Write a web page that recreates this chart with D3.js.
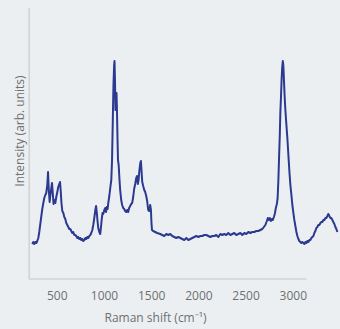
<!DOCTYPE html>
<html><head><meta charset="utf-8">
<script src="https://cdn.jsdelivr.net/npm/d3@7"></script>
<style>
html,body{margin:0;padding:0;background:#eceff1;}
svg{display:block;}
text{font-family:"Open Sans",sans-serif;fill:#6d6f71;}
</style></head>
<body>
<svg id="c" width="340" height="329"></svg>
<script>
// Raman shift (cm^-1)
const shift = [235,246,256,267,278,288,299,309,320,331,341,352,362,373,383,394,402,410,419,426,434,444,452,460,468,479,489,500,510,521,529,537,544,553,564,574,585,595,606,617,627,638,648,659,669,680,691,701,712,722,733,744,754,765,775,786,797,807,818,828,839,850,860,871,881,892,903,911,918,927,934,945,955,963,971,979,987,998,1008,1016,1024,1033,1040,1051,1061,1072,1080,1088,1095,1102,1106,1111,1116,1122,1127,1132,1138,1143,1150,1159,1166,1177,1187,1198,1209,1219,1230,1240,1251,1261,1272,1283,1293,1304,1314,1325,1336,1344,1353,1361,1370,1379,1386,1393,1400,1410,1421,1431,1442,1452,1463,1473,1484,1492,1497,1503,1515,1537,1558,1590,1612,1633,1655,1676,1697,1718,1739,1760,1782,1803,1824,1845,1867,1888,1909,1930,1951,1972,1994,2015,2036,2057,2078,2100,2121,2142,2163,2184,2206,2227,2248,2269,2290,2311,2333,2354,2375,2396,2417,2439,2460,2481,2502,2524,2545,2566,2587,2608,2630,2651,2672,2688,2704,2720,2730,2741,2751,2762,2773,2783,2794,2804,2815,2826,2834,2842,2849,2857,2863,2870,2876,2882,2889,2895,2901,2908,2916,2927,2937,2948,2959,2969,2980,2990,3001,3011,3022,3033,3043,3054,3064,3075,3085,3096,3107,3117,3128,3139,3149,3160,3170,3181,3191,3202,3213,3223,3234,3244,3255,3265,3276,3287,3297,3308,3318,3329,3340,3350,3361,3371,3382,3393,3403,3414,3424,3435,3446,3456,3467];
// Intensity (arb. units)
const intensity = [350,370,350,370,360,380,410,470,550,630,700,760,810,840,860,940,1070,890,770,830,890,960,860,750,790,760,820,870,920,950,970,870,760,680,660,620,600,560,540,520,500,500,480,460,470,440,440,430,410,420,400,410,390,400,380,390,410,400,420,410,430,440,460,490,540,610,690,730,670,570,510,470,450,520,600,660,650,690,710,670,720,700,760,830,910,990,1190,1590,1940,2140,2180,1990,1690,1820,1860,1690,1390,1190,1140,990,890,790,740,710,700,680,670,690,670,710,730,750,760,820,900,950,1010,1030,950,990,1090,1160,1180,1070,970,930,890,870,830,780,690,680,740,690,570,490,480,470,460,450,440,430,450,440,450,430,420,410,420,410,400,390,410,390,400,410,420,430,420,430,430,440,440,430,420,430,430,440,420,450,440,450,440,460,440,450,460,440,450,460,440,460,450,470,460,470,470,480,480,490,500,520,540,580,610,590,610,580,600,590,620,650,710,750,810,990,1210,1440,1670,1830,1990,2110,2180,2130,1990,1830,1690,1540,1410,1240,1070,940,840,740,660,590,530,470,430,400,380,370,360,370,360,350,370,360,380,370,390,390,410,420,430,460,480,510,520,540,540,560,570,570,590,590,610,610,630,650,630,610,610,590,570,550,520,500,470,440];

const xTicks = [500,1000,1500,2000,2500,3000];
const xTitle = "Raman shift (cm\u207B\u00B9)";
const yTitle = "Intensity (arb. units)";

const svg = d3.select("#c");
const x = d3.scaleLinear().domain([500,3000]).range([57.3,293.3]);
const y = d3.scaleLinear().domain([0,2690]).range([279,10]);

// axes lines
svg.append("line").attr("x1",x(203)).attr("x2",x(203)).attr("y1",8).attr("y2",279.5)
  .attr("stroke","#cfd3d6").attr("stroke-width",1.6);
svg.append("line").attr("x1",x(203)).attr("x2",x(3140)).attr("y1",279).attr("y2",279)
  .attr("stroke","#cfd3d6").attr("stroke-width",1.6);

// tick labels
svg.selectAll(".xt").data(xTicks).enter().append("text")
  .attr("x",d=>x(d)).attr("y",300).attr("text-anchor","middle")
  .attr("font-size",12).text(d=>d);

svg.append("text").attr("x",x(1540)).attr("y",322).attr("text-anchor","middle")
  .attr("font-size",12).text(xTitle);
svg.append("text").attr("transform","translate(24,131) rotate(-90)")
  .attr("text-anchor","middle").attr("font-size",12).text(yTitle);

const data = shift.map((s,i)=>[s,intensity[i]]);
svg.append("path").datum(data)
  .attr("d",d3.line().x(d=>x(d[0])).y(d=>y(d[1])))
  .attr("fill","none").attr("stroke","#2b3990").attr("stroke-width",2)
  .attr("stroke-linejoin","round");
</script>
</body></html>
